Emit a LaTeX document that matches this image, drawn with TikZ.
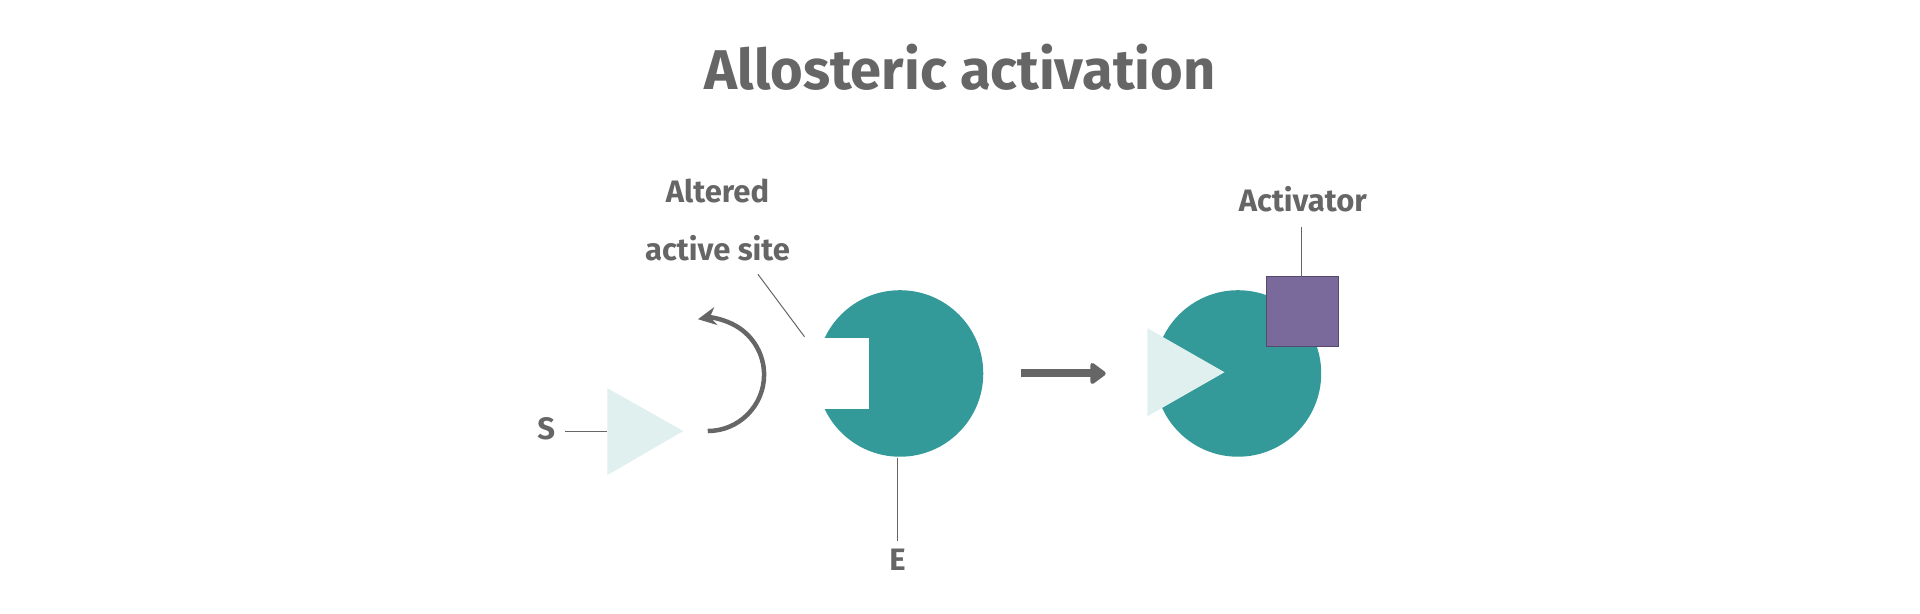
\documentclass[tikz,border=0pt]{standalone}
\usepackage{fontspec}
\setmainfont{Fira Sans}
\usetikzlibrary{arrows.meta}
\definecolor{tx}{HTML}{666666}
\definecolor{teal}{HTML}{339999}
\definecolor{pale}{HTML}{E0F0EF}
\definecolor{purp}{HTML}{7A6A9C}
\begin{document}
\begin{tikzpicture}[x=1.2245pt,y=-1.2245pt,
  lbl/.style={text=tx,font=\fontsize{31}{58}\selectfont\bfseries,align=center,inner sep=0},
  lead/.style={draw=tx,line width=1pt}]
\useasboundingbox (0,0) rectangle (1568,501.4);
\node[lbl,font=\fontsize{56}{60}\selectfont\bfseries] (title) at (784,55) {Allosteric activation};
% left enzyme
\fill[teal] (735,305) circle (68);
\fill[white] (660,276) rectangle (710,334);
\coordinate (eb) at (733,374);
% substrate
\fill[pale] (496,317) -- (558,352) -- (496,388) -- cycle;
\coordinate (st) at (496,352);
\node[lbl] (S) at (446,350) {S};
\draw[lead] (S.east)++(8,2) coordinate (sl) -- (st);
\node[lbl] (E) at (733,457) {E};
\draw[lead] (eb) -- ([yshift=8pt]E.north);
\node[lbl] (alt) at (586,180) {Altered\\active site};
\coordinate (ns) at (657,275);
\draw[lead] (619,224) coordinate (altl) -- (ns);
% curved arrow
\coordinate (arcs) at (578,352);
\draw[tx,line width=4.5pt,-{Stealth[length=18pt,width=18pt]}] (arcs) arc[start angle=90,end angle=-100,radius=46];
% main arrow
\coordinate (a1) at (834,305); \coordinate (a2) at (903,305);
\draw[tx,line width=8pt,-{Triangle[length=17pt,width=24pt,round]}] (a1) -- (a2);
% right enzyme
\fill[teal] (1011,305) circle (68);
\fill[pale] (937,268) -- (1000,304) -- (937,340) -- cycle;
\fill[purp] (1034,226) rectangle (1093,283);
\draw[purp!70!black,line width=0.6pt] (1034,226) rectangle (1093,283);
\coordinate (actt) at (1063,226);
\node[lbl] (actl) at (1064,163) {Activator};
\draw[lead] (1063,185) -- (actt);
\end{tikzpicture}
\end{document}
